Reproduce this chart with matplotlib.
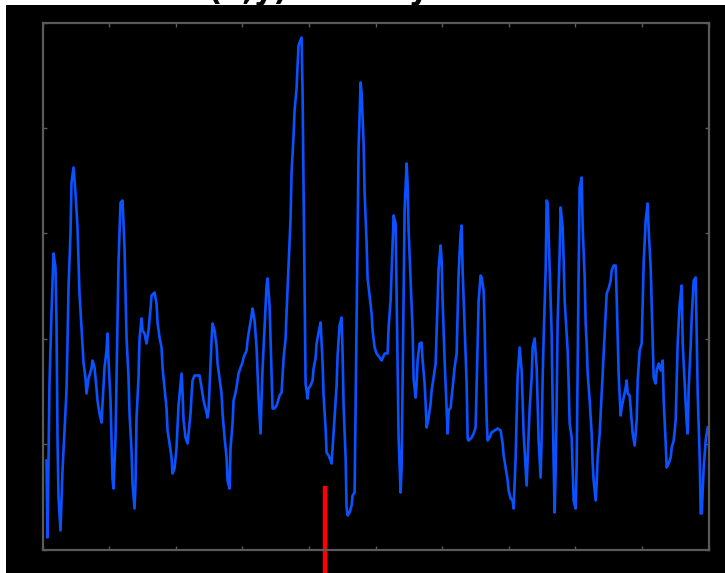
import matplotlib
matplotlib.use("Agg")
import matplotlib.pyplot as plt
from matplotlib.patches import Rectangle
import numpy as np

# signal (sample position, amplitude)
t = [4, 5, 7, 9, 11, 13, 14, 15, 16, 18, 20, 22, 24, 25, 26, 28, 29, 31, 33, 35,
     36, 37, 39, 40, 41, 43, 44, 46, 49, 50, 52, 54, 55, 57, 59, 60, 62, 64, 65, 66,
     68, 69, 70, 71, 73, 74, 75, 76, 78, 80, 82, 83, 84, 86, 87, 89, 90, 92, 93, 94,
     96, 97, 99, 100, 102, 104, 106, 108,
     109, 112, 114, 115, 117, 119, 120, 122, 124, 125, 127, 129, 130, 132, 134, 135,
     136, 138, 139, 140, 141, 143, 145, 146, 148, 149, 150, 152, 157, 159, 161, 163,
     165, 166, 167, 168, 169, 170, 172, 174, 175, 177, 179, 180, 182, 184, 185, 187,
     188, 190, 191, 193, 195, 196, 198, 200, 201, 204, 205, 207, 209, 210, 212, 214,
     215, 216, 218, 219,
     220, 222, 224, 225, 227, 228, 229, 230, 232, 234, 235, 237, 239, 240, 241, 243,
     244, 246, 248, 249, 251, 252, 254, 255, 256, 259, 260, 261, 262, 263, 265, 266,
     268, 270, 271, 273, 274, 276, 278, 279, 280, 281, 283, 284, 286, 288, 289, 290,
     292, 294, 295, 297, 299, 300, 301, 303, 304, 305, 307, 309, 310, 312, 313, 314,
     315, 316, 318, 319, 321, 322, 324, 325, 327,
     329, 330, 332, 334, 337, 339, 342, 345, 346, 348, 349, 350, 351, 353, 354, 355,
     356, 358, 359, 360, 361, 362, 364, 365, 366, 368, 370, 371, 373, 374, 375, 377,
     379, 380, 382, 383, 384, 386, 388, 389, 391, 393, 394, 395, 396, 398, 399, 400,
     402, 404, 405, 406, 408, 410, 412, 414, 415, 416, 418, 419, 420, 422, 424, 425,
     426, 429, 431, 433, 434, 435, 436, 438, 439, 441, 442, 443,
     444, 445, 447, 449, 452, 455, 458, 460, 461, 463, 465, 466, 468, 470, 471, 473,
     474, 475, 477, 479, 480, 481, 483, 484, 485, 487, 489, 490, 492, 494, 495, 496,
     498, 499, 500, 501, 503, 504, 505, 507, 509, 510, 511, 512, 513, 514, 515, 517,
     518, 520, 521, 522, 524, 525, 526, 527, 529, 530, 531, 533, 534, 535, 536, 537,
     539, 540, 542, 543, 544, 545, 547, 549, 550, 551, 553, 554,
     555, 557, 559, 561, 563, 564, 566, 568, 569, 571, 573, 574, 575, 576, 578, 579,
     581, 583, 584, 585, 587, 589, 590, 592, 594, 595, 597, 599, 600, 601, 603, 605,
     606, 608, 609, 610, 611, 613, 614, 616, 618, 620, 621, 623, 624, 626, 628, 629,
     631, 633, 634, 635, 637, 639, 640, 642, 644, 645, 646, 648, 649, 651, 653, 654,
     655, 657, 658, 659, 661, 663, 664, 665]

amp = [89, 12, 166, 237, 296, 282, 226, 112, 52, 19, 79, 119, 159, 207, 262, 316, 367, 382, 356, 322,
       289, 256, 222, 204, 187, 171, 156, 171, 181, 189, 182, 161, 149, 136, 127, 146, 182, 199, 216, 189,
       149, 112, 71, 61, 112, 169, 227, 287, 347, 349, 302, 259, 212, 172, 136, 99, 66, 41, 66, 132,
       172, 211, 231, 219, 216, 206, 219, 241,
       254, 257, 246, 227, 212, 202, 182, 162, 141, 119, 106, 92, 76, 81, 102, 124,
       144, 166, 176, 156, 129, 112, 106, 116, 136, 154, 169, 174, 174, 162, 149, 141,
       132, 139, 162, 186, 209, 226, 219, 204, 186, 171, 156, 136, 112, 92, 69, 61,
       102, 126, 149, 157, 169, 176, 182, 187, 192, 199, 209, 222, 234, 241, 229, 202,
       176, 152, 116, 152,
       181, 222, 264, 271, 244, 209, 176, 141, 141, 144, 147, 154, 157, 174, 191, 211,
       237, 284, 331, 377, 414, 439, 461, 484, 504, 512, 457, 357, 261, 166, 151, 161,
       164, 169, 181, 191, 206, 217, 227, 206, 187, 154, 121, 97, 94, 89, 86, 101,
       132, 164, 194, 224, 232, 196, 144, 92, 42, 34, 37, 44, 54, 57, 142, 229,
       314, 401, 467, 457, 407, 357, 307, 271, 254,
       236, 219, 202, 196, 192, 189, 196, 196, 222, 249, 277, 306, 334, 326, 256, 182,
       112, 57, 82, 166, 252, 339, 386, 366, 319, 269, 219, 171, 152, 166, 189, 206,
       207, 189, 166, 146, 122, 132, 146, 159, 172, 186, 219, 249, 281, 304, 289, 249,
       189, 142, 116, 139, 142, 162, 182, 196, 236, 276, 316, 324, 279, 222, 166, 111,
       109, 112, 116, 122, 166, 206, 249, 274, 272, 259, 222, 172,
       131, 109, 112, 117, 119, 121, 119, 106, 94, 82, 69, 59, 51, 49, 41, 92,
       132, 174, 202, 179, 149, 116, 82, 64, 89, 141, 172, 202, 211, 182, 146, 109,
       72, 112, 172, 212, 279, 349, 347, 282, 216, 146, 86, 37, 79, 146, 229, 296,
       342, 322, 289, 249, 216, 199, 166, 126, 112, 79, 49, 41, 86, 186, 279, 362,
       372, 322, 272, 226, 206, 176, 149, 116, 86, 69, 49, 66,
       92, 116, 156, 196, 236, 256, 261, 269, 279, 284, 284, 252, 212, 174, 134, 142,
       152, 162, 169, 156, 154, 129, 116, 104, 129, 169, 199, 206, 246, 287, 329, 346,
       319, 282, 246, 206, 172, 166, 179, 186, 179, 189, 149, 106, 82, 86, 92, 102,
       109, 129, 167, 207, 246, 264, 206, 166, 126, 116, 162, 204, 232, 269, 272, 216,
       156, 92, 36, 36, 82, 109, 116, 122]

# axis extents and the red marker
t_max = 666
amp_max = 527
marker_t = 282
marker_top = 64
title = "Slice of f(x,y) cut at y = 0"

fig = plt.figure(figsize=(7.25, 5.73), dpi=100, facecolor="black")

# white strips along top and left edges (cropped screenshot look)
fig.add_artist(Rectangle((0, 1 - 5 / 573), 1, 5 / 573, transform=fig.transFigure,
                         facecolor="white", edgecolor="none", zorder=5))
fig.add_artist(Rectangle((0, 0), 6 / 725, 1, transform=fig.transFigure,
                         facecolor="white", edgecolor="none", zorder=5))
fig.text(0.08, 1.0, title, ha="left", va="baseline", fontsize=22,
         fontweight="bold", color="black", zorder=6)

ax = fig.add_axes([42.5 / 725, 1 - 549.5 / 573, 666.2 / 725, 527 / 573])
ax.set_facecolor("black")
ax.plot(t, amp, color="#0a52ff", lw=1.9)
ax.plot([marker_t, marker_t], [marker_top, -40], color="#ff0000", lw=3.2,
        clip_on=False, solid_capstyle="butt")

ax.set_xlim(0, t_max)
ax.set_ylim(0, amp_max)
ax.set_xticks(np.linspace(0, t_max, 11))
ax.set_yticks(np.linspace(0, amp_max, 6))
ax.tick_params(direction="in", length=3, width=1, color="#5a5a5a",
               top=True, right=True, labelbottom=False, labelleft=False)
for s in ax.spines.values():
    s.set_color("#5a5a5a")
    s.set_linewidth(1.6)

fig.savefig("out.png", dpi=100, facecolor="black")
